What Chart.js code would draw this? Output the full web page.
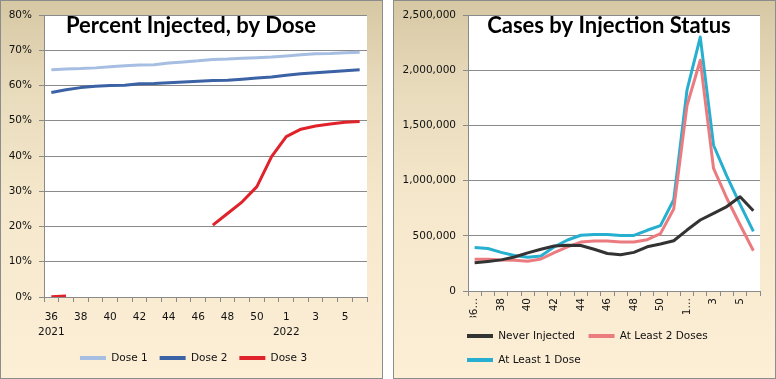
<!DOCTYPE html>
<html>
<head>
<meta charset="utf-8">
<title>Percent Injected / Cases by Injection Status</title>
<script src="https://cdn.jsdelivr.net/npm/chart.js@4.4.1/dist/chart.umd.min.js"></script>
<style>
    html, body { margin: 0; padding: 0; background: #fff; }
    body { width: 776px; height: 379px; position: relative; overflow: hidden; }
    .panel {
        position: absolute;
        top: 0;
        width: 383px;
        height: 379px;
        box-sizing: border-box;
        border: 1px solid #8c8c8c;
        background: linear-gradient(to bottom, #d7c8a4 0%, #e9dcbd 25%, #f6e8cc 55%, #fdefd6 100%);
    }
    #leftPanel { left: 0; }
    #rightPanel { left: 393px; }
    .panel canvas { position: absolute; left: 0; top: 0; }
</style>
</head>
<body>
<div class="panel" id="leftPanel"><canvas id="doseChart" width="381" height="377"></canvas></div>
<div class="panel" id="rightPanel"><canvas id="casesChart" width="381" height="377"></canvas></div>

<script>
"use strict";

// Weeks: 2021 wk 36 .. 2022 wk 6
const weeks = ['36', '37', '38', '39', '40', '41', '42', '43', '44', '45', '46', '47',
               '48', '49', '50', '51', '1', '2', '3', '4', '5', '6'];
const years = ['2021', '2022'];
const yearStart = [0, 16]; // index in weeks where each year begins

// Percent injected, by dose (%)
const dose1 = [64.5, 64.7, 64.8, 65.0, 65.3, 65.6, 65.8, 65.9, 66.4, 66.7, 67.0,
               67.4, 67.5, 67.7, 67.9, 68.1, 68.4, 68.7, 69.0, 69.1, 69.3, 69.4];
const dose2 = [58.0, 58.8, 59.4, 59.8, 60.0, 60.1, 60.5, 60.6, 60.8, 61.0, 61.2,
               61.4, 61.5, 61.8, 62.1, 62.4, 62.9, 63.3, 63.6, 63.9, 64.2, 64.5];
const dose3 = [0.1, 0.3, null, null, null, null, null, null, null, null, null,
               20.4, 23.7, 27.0, 31.3, 39.8, 45.5, 47.6, 48.5, 49.1, 49.6, 49.8];

// Cases by injection status
const neverInjected = [256000, 268000, 282000, 308000, 345000, 378000, 408000, 415000, 412000, 378000, 340000,
                       328000, 350000, 400000, 425000, 455000, 552000, 643000, 703000, 765000, 853000, 727000];
const atLeast2Doses = [288000, 288000, 280000, 278000, 270000, 290000, 348000, 400000, 443000, 452000, 452000,
                       444000, 443000, 465000, 520000, 742000, 1680000, 2090000, 1110000, 840000, 600000, 365000];
const atLeast1Dose  = [395000, 385000, 350000, 322000, 305000, 318000, 400000, 462000, 505000, 512000, 512000,
                       502000, 503000, 550000, 592000, 826000, 1820000, 2300000, 1320000, 1040000, 785000, 540000];

var gridColor = '#8a8a8a';

Chart.defaults.font.family = "'DejaVu Sans', sans-serif";
Chart.defaults.font.size = 10.5;
Chart.defaults.color = '#111111';

// white plot area over the panel gradient
const plotBackground = {
    id: 'plotBackground',
    beforeDraw(chart) {
        const {ctx, chartArea: a} = chart;
        ctx.save();
        ctx.fillStyle = '#ffffff';
        ctx.fillRect(a.left, a.top, a.right - a.left, a.bottom - a.top);
        ctx.restore();
    }
};

// title sits inside the plot area, like the Excel original
const innerTitle = {
    id: 'innerTitle',
    afterDatasetsDraw(chart, args, opts) {
        const ctx = chart.ctx;
        ctx.save();
        ctx.font = opts.font;
        ctx.fillStyle = '#000000';
        ctx.textAlign = 'center';
        ctx.textBaseline = 'alphabetic';
        ctx.fillText(opts.text, opts.x, opts.y);
        ctx.restore();
    }
};

// move the legend sideways after layout
const legendNudge = {
    id: 'legendNudge',
    afterLayout(chart, args, opts) {
        if (chart.legend && opts.dx) {
            chart.legend.left += opts.dx;
            chart.legend.right += opts.dx;
        }
    }
};

// legend swatch as a flat line, no outline
const lineSwatches = (chart) => Chart.defaults.plugins.legend.labels.generateLabels(chart)
    .map(item => Object.assign(item, { lineWidth: 0, fillStyle: item.strokeStyle }));

const lineSet = (label, data, color) => ({
    label: label,
    data: data,
    borderColor: color,
    backgroundColor: color,
    borderWidth: 3,
    pointRadius: 0,
    tension: 0,
    borderJoinStyle: 'round',
    spanGaps: false
});

// Left chart
new Chart(document.getElementById('doseChart'), {
    type: 'line',
    data: {
        labels: weeks,
        datasets: [
            lineSet('Dose 1', dose1, '#a6bee2'),
            lineSet('Dose 2', dose2, '#3b62a5'),
            lineSet('Dose 3', dose3, '#e0222a')
        ]
    },
    options: {
        responsive: false,
        animation: false,
        layout: { padding: { top: 14, right: 15, bottom: 4.75, left: 0 } },
        scales: {
            x: {
                offset: true,
                grid: { offset: true, drawOnChartArea: false, tickLength: 5, color: gridColor },
                border: { color: gridColor },
                ticks: {
                    autoSkip: false,
                    maxRotation: 0,
                    padding: 7,
                    font: { lineHeight: 1.5 },
                    callback: function (value, i) {
                        if (i % 2) return '';
                        const y = yearStart.indexOf(i);
                        return y >= 0 ? [weeks[i], years[y]] : weeks[i];
                    }
                },
                afterFit: (scale) => { scale.height = 43.75; }
            },
            y: {
                min: 0,
                max: 80,
                grid: { color: gridColor, tickLength: 5 },
                border: { color: gridColor },
                ticks: { stepSize: 10, padding: 7, callback: (v) => v + '%' },
                afterFit: (scale) => { scale.width = 43; }
            }
        },
        plugins: {
            legend: {
                position: 'bottom',
                labels: { boxWidth: 26, boxHeight: 4, padding: 12, color: '#111', generateLabels: lineSwatches }
            },
            tooltip: { enabled: false },
            innerTitle: { text: 'Percent Injected, by Dose', x: 190, y: 32, font: 'bold 22px Lato' },
            legendNudge: { dx: 9.5 }
        }
    },
    plugins: [plotBackground, innerTitle, legendNudge]
});

// Right chart
new Chart(document.getElementById('casesChart'), {
    type: 'line',
    data: {
        labels: weeks,
        datasets: [
            lineSet('Never Injected', neverInjected, '#333333'),
            lineSet('At Least 2 Doses', atLeast2Doses, '#ec7b80'),
            lineSet('At Least 1 Dose', atLeast1Dose, '#27afd0')
        ]
    },
    options: {
        responsive: false,
        animation: false,
        layout: { padding: { top: 14, right: 15, bottom: 2.75, left: 0 } },
        scales: {
            x: {
                offset: true,
                grid: { offset: true, drawOnChartArea: false, tickLength: 5, color: gridColor },
                border: { color: gridColor },
                ticks: {
                    autoSkip: false,
                    minRotation: 90,
                    maxRotation: 90,
                    padding: 2,
                    callback: function (value, i) {
                        if (i % 2) return '';
                        // Excel cut the two-level labels short
                        return yearStart.indexOf(i) >= 0 ? weeks[i] + '\u2026' : weeks[i];
                    }
                },
                afterFit: (scale) => { scale.height = 26.25; }
            },
            y: {
                min: 0,
                max: 2500000,
                grid: { color: gridColor, tickLength: 5 },
                border: { color: gridColor },
                ticks: { stepSize: 500000, padding: 7, callback: (v) => v.toLocaleString('en-US') },
                afterFit: (scale) => { scale.width = 74; }
            }
        },
        plugins: {
            legend: {
                position: 'bottom',
                align: 'start',
                labels: { boxWidth: 26, boxHeight: 4, padding: 13.5, color: '#111', generateLabels: lineSwatches }
            },
            tooltip: { enabled: false },
            innerTitle: { text: 'Cases by Injection Status', x: 215, y: 32, font: 'bold 22px Lato' },
            legendNudge: { dx: 59.5 }
        }
    },
    plugins: [plotBackground, innerTitle, legendNudge]
});
</script>
</body>
</html>
